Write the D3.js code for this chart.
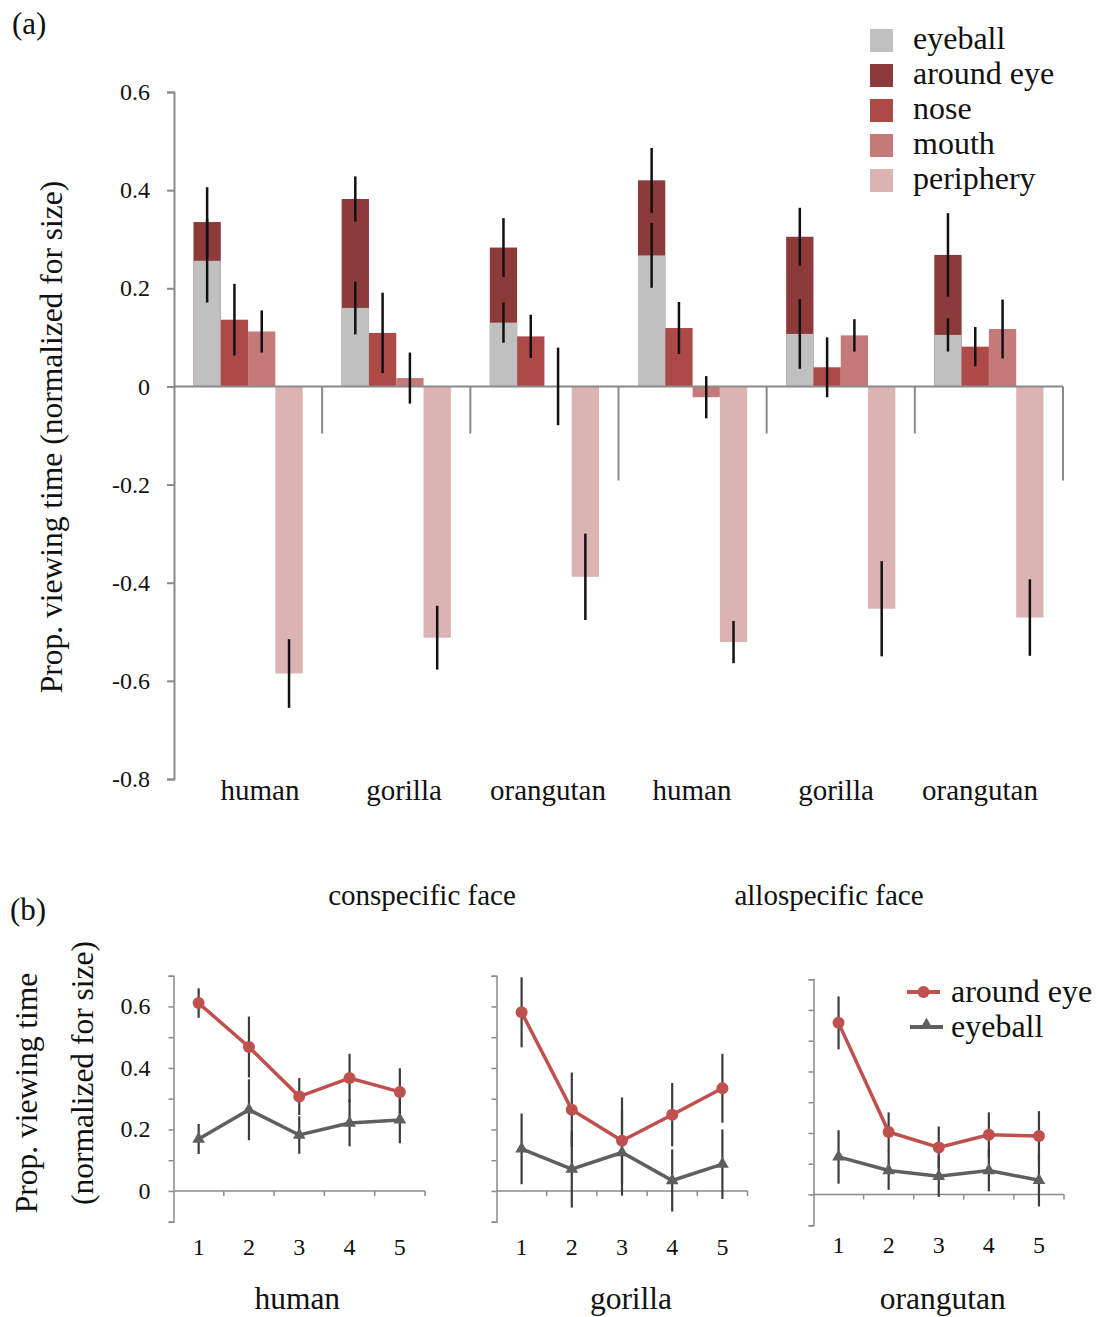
<!DOCTYPE html>
<meta charset="utf-8">
<script src="https://d3js.org/d3.v7.min.js"></script>
<style>
  body { margin: 0; background: #fff; }
  text { font-family: "Liberation Serif", "Times New Roman", serif; fill: #111; }
</style>
<body>
<script>

// ---- panel (a) data ----
var groups = ["human", "gorilla", "orangutan", "human", "gorilla", "orangutan"]
var regions = ["eyeball", "around eye", "nose", "mouth", "periphery"]
var eyeball      = [0.256, 0.160, 0.130, 0.267, 0.107, 0.105]
var eyeballErr   = [0.085, 0.054, 0.041, 0.066, 0.071, 0.034]
var aroundEye    = [0.335, 0.382, 0.283, 0.420, 0.305, 0.268]   // full height of stacked bar
var aroundEyeErr = [0.071, 0.046, 0.060, 0.066, 0.059, 0.085]
var nose         = [0.136, 0.109, 0.102, 0.119, 0.039, 0.081]
var noseErr      = [0.073, 0.082, 0.044, 0.053, 0.061, 0.040]
var mouth        = [0.112, 0.017, 0.000, -0.022, 0.104, 0.117]
var mouthErr     = [0.043, 0.052, 0.079, 0.043, 0.033, 0.060]
var periphery    = [-0.585, -0.512, -0.388, -0.521, -0.453, -0.471]
var peripheryErr = [0.070, 0.065, 0.088, 0.043, 0.097, 0.078]
var yTicksA = [-0.8, -0.6, -0.4, -0.2, 0, 0.2, 0.4, 0.6]

// ---- panel (b) data ----
var trials = [1, 2, 3, 4, 5]
var species = ["human", "gorilla", "orangutan"]
var humanAround        = [0.611, 0.468, 0.307, 0.367, 0.322]
var humanAroundErr     = [0.048, 0.099, 0.060, 0.079, 0.077]
var humanEyeball       = [0.169, 0.264, 0.182, 0.221, 0.231]
var humanEyeballErr    = [0.049, 0.099, 0.061, 0.076, 0.076]
var gorillaAround      = [0.581, 0.264, 0.163, 0.248, 0.334]
var gorillaAroundErr   = [0.114, 0.121, 0.141, 0.103, 0.112]
var gorillaEyeball     = [0.137, 0.071, 0.125, 0.034, 0.087]
var gorillaEyeballErr  = [0.115, 0.125, 0.140, 0.101, 0.113]
var orangAround        = [0.558, 0.203, 0.153, 0.194, 0.190]
var orangAroundErr     = [0.086, 0.064, 0.068, 0.073, 0.081]
var orangEyeball       = [0.122, 0.078, 0.059, 0.078, 0.046]
var orangEyeballErr    = [0.087, 0.063, 0.067, 0.068, 0.085]
var yTicksB = [0, 0.2, 0.4, 0.6]

var colors = {
  "eyeball": "#c0c0c0",
  "around eye": "#8c3b3a",
  "nose": "#ad4a48",
  "mouth": "#c47a78",
  "periphery": "#dbb3b2"
}
var axisColor = "#8a8a8a"

// plain hyphen for negatives, like the original
function fmt(d) { return d == 0 ? "0" : (d < 0 ? "-" : "") + Math.abs(d).toFixed(1) }

var svg = d3.select("body").append("svg")
    .attr("width", 1099)
    .attr("height", 1317)

// ================= panel (a) =================
var x = d3.scaleBand().domain(d3.range(groups.length)).range([174, 1063])
var xi = d3.scaleBand().domain(["stack", "nose", "mouth", "periphery"])
    .range([0, x.bandwidth()]).paddingOuter(0.714)
var y = d3.scaleLinear().domain([-0.8, 0.6]).range([779, 92])
// category labels sit slightly off the band centres in the original
var xLab = d3.scaleLinear().domain([0, groups.length - 1]).range([260, 980])

var a = svg.append("g")

var bars = []
groups.forEach(function(g, i) {
  bars.push({g: i, slot: "stack", key: "around eye", v: aroundEye[i], e: aroundEyeErr[i]})
  bars.push({g: i, slot: "stack", key: "eyeball", v: eyeball[i], e: eyeballErr[i]})
  bars.push({g: i, slot: "nose", key: "nose", v: nose[i], e: noseErr[i]})
  bars.push({g: i, slot: "mouth", key: "mouth", v: mouth[i], e: mouthErr[i]})
  bars.push({g: i, slot: "periphery", key: "periphery", v: periphery[i], e: peripheryErr[i]})
})

a.selectAll("rect.bar").data(bars).enter().append("rect")
  .attr("class", "bar")
  .attr("x", function(d) { return x(d.g) + xi(d.slot) })
  .attr("width", xi.bandwidth())
  .attr("y", function(d) { return y(Math.max(0, d.v)) })
  .attr("height", function(d) { return Math.abs(y(d.v) - y(0)) })
  .attr("fill", function(d) { return colors[d.key] })

// axes
a.append("line").attr("x1", 174).attr("x2", 1063).attr("y1", y(0)).attr("y2", y(0))
  .attr("stroke", axisColor).attr("stroke-width", 2)
a.selectAll("line.sep").data(d3.range(1, groups.length + 1)).enter().append("line")
  .attr("class", "sep")
  .attr("x1", function(d) { return 174 + d * x.step() })
  .attr("x2", function(d) { return 174 + d * x.step() })
  .attr("y1", y(0))
  .attr("y2", function(d) { return y(0) + (d % 3 == 0 ? 94 : 47) })
  .attr("stroke", axisColor).attr("stroke-width", 2)

var yAxisA = a.append("g")
  .attr("transform", "translate(174,0)")
  .call(d3.axisLeft(y).tickValues(yTicksA).tickSize(7).tickPadding(17).tickFormat(fmt))
yAxisA.select(".domain").attr("stroke", axisColor).attr("stroke-width", 2)
yAxisA.selectAll(".tick line").attr("stroke", axisColor).attr("stroke-width", 2)
yAxisA.selectAll(".tick text").style("font-family", "Liberation Serif").style("font-size", "24px").attr("fill", "#111")

// error bars
a.selectAll("line.err").data(bars).enter().append("line")
  .attr("class", "err")
  .attr("x1", function(d) { return x(d.g) + xi(d.slot) + xi.bandwidth() / 2 })
  .attr("x2", function(d) { return x(d.g) + xi(d.slot) + xi.bandwidth() / 2 })
  .attr("y1", function(d) { return y(d.v + d.e) })
  .attr("y2", function(d) { return y(d.v - d.e) })
  .attr("stroke", "#111").attr("stroke-width", 2.5)

a.selectAll("text.cat").data(groups).enter().append("text")
  .attr("class", "cat")
  .attr("x", function(d, i) { return xLab(i) })
  .attr("y", 800)
  .attr("text-anchor", "middle")
  .style("font-size", "29px")
  .text(function(d) { return d })

a.append("text")
  .attr("transform", "translate(62,437) rotate(-90)")
  .attr("text-anchor", "middle")
  .style("font-size", "31.5px")
  .text("Prop. viewing time (normalized for size)")

a.append("text").attr("x", 12).attr("y", 34).style("font-size", "31px").text("(a)")

// legend (a)
var lgA = a.selectAll("g.lg").data(regions).enter().append("g")
  .attr("class", "lg")
  .attr("transform", function(d, i) { return "translate(870," + (29 + i * 35) + ")" })
lgA.append("rect").attr("width", 23).attr("height", 23).attr("fill", function(d) { return colors[d] })
lgA.append("text").attr("x", 43).attr("y", 20).style("font-size", "32px").text(function(d) { return d })

// ================= panel (b) =================
var panels = [
  {name: "human", x0: 173.5, x1: 425, dy: 0, around: humanAround, aroundErr: humanAroundErr, eye: humanEyeball, eyeErr: humanEyeballErr},
  {name: "gorilla", x0: 496.5, x1: 747.5, dy: 0, around: gorillaAround, aroundErr: gorillaAroundErr, eye: gorillaEyeball, eyeErr: gorillaEyeballErr},
  {name: "orangutan", x0: 813.5, x1: 1064, dy: 3.5, around: orangAround, aroundErr: orangAroundErr, eye: orangEyeball, eyeErr: orangEyeballErr}
]
var red = "#c0504d", grey = "#5f5f5f"

panels.forEach(function(p, pi) {
  var g = svg.append("g")
  var px = d3.scaleBand().domain(trials).range([p.x0, p.x1])
  var py = d3.scaleLinear().domain([-0.1, 0.7]).range([1221.7 + p.dy, 975.7 + p.dy])

  // y axis: tick every 0.1, labels on first panel only
  var yAx = g.append("g").attr("transform", "translate(" + p.x0 + ",0)")
    .call(d3.axisLeft(py).ticks(8).tickSize(5).tickFormat(""))
  yAx.select(".domain").attr("stroke", axisColor).attr("stroke-width", 1.5)
  yAx.selectAll(".tick line").attr("stroke", axisColor).attr("stroke-width", 1.5)
  if (pi == 0) {
    g.selectAll("text.yl").data(yTicksB).enter().append("text")
      .attr("class", "yl")
      .attr("x", p.x0 - 23).attr("y", function(d) { return py(d) + 8 })
      .attr("text-anchor", "end")
      .style("font-size", "24px")
      .text(fmt)
  }
  // x axis at zero
  g.append("line").attr("x1", p.x0).attr("x2", p.x1).attr("y1", py(0)).attr("y2", py(0))
    .attr("stroke", axisColor).attr("stroke-width", 1.5)
  g.selectAll("line.xt").data(trials).enter().append("line")
    .attr("class", "xt")
    .attr("x1", function(d) { return px(d) + px.bandwidth() }).attr("x2", function(d) { return px(d) + px.bandwidth() })
    .attr("y1", py(0)).attr("y2", py(0) + 5)
    .attr("stroke", axisColor).attr("stroke-width", 1.5)
  g.selectAll("text.xl").data(trials).enter().append("text")
    .attr("class", "xl")
    .attr("x", function(d) { return px(d) + px.bandwidth() / 2 })
    .attr("y", pi == 2 ? 1253 : 1255)
    .attr("text-anchor", "middle")
    .style("font-size", "24px")
    .text(function(d) { return d })
  g.append("text")
    .attr("x", (p.x0 + p.x1) / 2 + (pi == 0 ? -2 : (pi == 1 ? 9 : 4)))
    .attr("y", 1309)
    .attr("text-anchor", "middle")
    .style("font-size", "31.5px")
    .text(p.name)

  var cx = function(d, i) { return px(trials[i]) + px.bandwidth() / 2 }
  var line = d3.line().x(function(d, i) { return px(trials[i]) + px.bandwidth() / 2 }).y(function(d) { return py(d) })

  g.append("path").attr("d", line(p.around)).attr("fill", "none").attr("stroke", red).attr("stroke-width", 3.5)
  g.append("path").attr("d", line(p.eye)).attr("fill", "none").attr("stroke", grey).attr("stroke-width", 3.5)

  var errs = p.around.map(function(v, i) { return {i: i, v: v, e: p.aroundErr[i]} })
    .concat(p.eye.map(function(v, i) { return {i: i, v: v, e: p.eyeErr[i]} }))
  g.selectAll("line.er").data(errs).enter().append("line")
    .attr("class", "er")
    .attr("x1", function(d) { return px(trials[d.i]) + px.bandwidth() / 2 })
    .attr("x2", function(d) { return px(trials[d.i]) + px.bandwidth() / 2 })
    .attr("y1", function(d) { return py(d.v + d.e) })
    .attr("y2", function(d) { return py(d.v - d.e) })
    .attr("stroke", "#3c3c3c").attr("stroke-width", 2.2)

  g.selectAll("circle.m").data(p.around).enter().append("circle")
    .attr("class", "m")
    .attr("cx", cx).attr("cy", function(d) { return py(d) }).attr("r", 6)
    .attr("fill", red)
  g.selectAll("path.t").data(p.eye).enter().append("path")
    .attr("class", "t")
    .attr("d", d3.symbol().type(d3.symbolTriangle).size(70))
    .attr("transform", function(d, i) { return "translate(" + cx(d, i) + "," + py(d) + ")" })
    .attr("fill", grey)
})

svg.append("text").attr("x", 10).attr("y", 920).style("font-size", "31px").text("(b)")
svg.append("text").attr("x", 422).attr("y", 905).attr("text-anchor", "middle").style("font-size", "29px").text("conspecific face")
svg.append("text").attr("x", 829).attr("y", 905).attr("text-anchor", "middle").style("font-size", "29px").text("allospecific face")

svg.append("text").attr("transform", "translate(37,1093) rotate(-90)").attr("text-anchor", "middle")
  .style("font-size", "31.5px").text("Prop. viewing time")
svg.append("text").attr("transform", "translate(93,1073) rotate(-90)").attr("text-anchor", "middle")
  .style("font-size", "31.5px").text("(normalized for size)")

// legend (b)
var lgB = svg.append("g").attr("transform", "translate(907,992)")
lgB.append("line").attr("x1", 0).attr("x2", 33).attr("stroke", red).attr("stroke-width", 4)
lgB.append("circle").attr("cx", 16.5).attr("r", 6).attr("fill", red)
lgB.append("text").attr("x", 44).attr("y", 10).style("font-size", "32px").text("around eye")
lgB.append("line").attr("x1", 3).attr("x2", 36).attr("y1", 35).attr("y2", 35).attr("stroke", grey).attr("stroke-width", 4)
lgB.append("path").attr("d", d3.symbol().type(d3.symbolTriangle).size(70)).attr("transform", "translate(19.5,33)").attr("fill", grey)
lgB.append("text").attr("x", 44).attr("y", 45).style("font-size", "32px").text("eyeball")

</script>
</body>
